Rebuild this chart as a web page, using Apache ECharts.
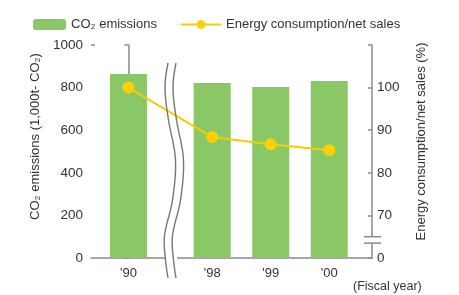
<!DOCTYPE html>
<html>
<head>
<meta charset="utf-8">
<script src="https://cdn.jsdelivr.net/npm/echarts@6.0.0/dist/echarts.min.js"></script>
<style>
  html, body { margin: 0; padding: 0; background: #fff; }
  #main { width: 459px; height: 295px; }
</style>
</head>
<body>
<div id="main"></div>
<script>
// fiscal years and values
var years = ["'90", "'98", "'99", "'00"];
var co2 = [864, 822, 803, 831];          // 1,000t-CO2
var energy = [100, 88.4, 86.7, 85.3];    // %

// slot of each year on the (broken) x axis, '90 sits before the break
var slots = [0, 1.43, 2.43, 3.43];
var xMin = -0.64, xMax = 4.16;

var font = '"Liberation Sans", Arial, sans-serif';
var axisColor = '#8a8a8a';
var textColor = '#333';

var chart = echarts.init(document.getElementById('main'));

var option = {
  animation: false,
  textStyle: { fontFamily: font },
  grid: { left: 91, right: 87, top: 45, bottom: 37 },
  legend: [
    {
      data: ['CO₂ emissions'],
      left: 28, top: 13,
      itemWidth: 33, itemHeight: 11,
      textStyle: { fontSize: 13, color: textColor, fontFamily: font },
      selectedMode: false
    },
    {
      data: ['Energy consumption/net sales'],
      left: 175, top: 13,
      itemWidth: 40, itemHeight: 11,
      textStyle: { fontSize: 13, color: textColor, fontFamily: font },
      selectedMode: false
    }
  ],
  xAxis: {
    type: 'value',
    min: xMin,
    max: xMax,
    axisLine: { lineStyle: { color: axisColor, width: 1.5 } },
    axisTick: { show: false },
    splitLine: { show: false },
    axisLabel: {
      customValues: slots,
      margin: 9,
      fontSize: 13,
      color: textColor,
      fontFamily: font,
      formatter: function (v) {
        var i = slots.indexOf(v);
        return i >= 0 ? years[i] : '';
      }
    }
  },
  yAxis: [
    {
      type: 'value',
      min: 0, max: 1000, interval: 200,
      name: 'CO₂ emissions (1,000t- CO₂)',
      nameLocation: 'middle',
      nameRotate: 90,
      nameGap: 41,
      nameTextStyle: { fontSize: 13, color: textColor, fontFamily: font, padding: [0, 0, 0, 30] },
      axisLine: { show: true, lineStyle: { color: axisColor, width: 1.5 } },
      axisTick: { show: true, length: 4, lineStyle: { color: axisColor, width: 1.5 } },
      splitLine: { show: false },
      axisLabel: {
        margin: 8, fontSize: 13.5, color: textColor, fontFamily: font,
        formatter: function (v) { return String(v); }
      }
    },
    {
      type: 'value',
      position: 'right',
      min: 60, max: 110, interval: 10,
      name: 'Energy consumption/net sales (%)',
      nameLocation: 'middle',
      nameRotate: 90,
      nameGap: 43,
      nameTextStyle: { fontSize: 13, color: textColor, fontFamily: font, padding: [0, 0, 0, 20] },
      axisLine: { show: true, lineStyle: { color: axisColor, width: 1.5 } },
      axisTick: { show: true, inside: true, length: 4, lineStyle: { color: axisColor, width: 1.5 } },
      splitLine: { show: false },
      axisLabel: {
        margin: 5, fontSize: 13.5, color: textColor, fontFamily: font,
        formatter: function (v) {
          if (v === 60) return '0';
          if (v === 110) return '';
          return String(v);
        }
      }
    }
  ],
  series: [
    {
      name: 'CO₂ emissions',
      type: 'bar',
      barWidth: 37,
      itemStyle: { color: '#8ac867' },
      data: co2.map(function (v, i) { return [slots[i], v]; }),
      z: 1
    },
    {
      name: 'Energy consumption/net sales',
      type: 'line',
      yAxisIndex: 1,
      symbol: 'circle',
      symbolSize: 12,
      lineStyle: { color: '#f7cc00', width: 2 },
      itemStyle: { color: '#ffd000' },
      data: energy.map(function (v, i) { return [slots[i], v]; }),
      z: 3
    }
  ]
};

chart.setOption(option);

// decorations: wavy break between '90 and '98, break on the right axis, fiscal year note
var wave = [[168, 63], [165, 88], [168.5, 120], [175.5, 160], [172.5, 200], [164.5, 236], [165.5, 260], [168, 278]];
var wave2 = wave.map(function (p) { return [p[0] + 8, p[1]]; });
var yBase = chart.convertToPixel({ yAxisIndex: 0 }, 0);
var yTop = chart.convertToPixel({ yAxisIndex: 0 }, 1000);
var xL = chart.convertToPixel({ xAxisIndex: 0 }, xMin);
var xR = chart.convertToPixel({ xAxisIndex: 0 }, xMax);
var yb1 = chart.convertToPixel({ yAxisIndex: 1 }, 65);
var yb2 = chart.convertToPixel({ yAxisIndex: 1 }, 63.5);

chart.setOption({
  graphic: [
    { type: 'rect', shape: { x: xL - 5, y: yTop - 1, width: 4.5, height: 2 }, style: { fill: '#fff' }, z: 10 },
    { type: 'line', shape: { x1: xL, y1: yTop, x2: xL + 4, y2: yTop }, style: { stroke: axisColor, lineWidth: 1.5 }, z: 11 },
    { type: 'rect', shape: { x: 165, y: yBase - 2, width: 12, height: 4 }, style: { fill: '#fff' }, z: 10 },
    { type: 'polyline', shape: { points: wave, smooth: 0.4 }, style: { stroke: '#777', lineWidth: 1.4, fill: null }, z: 11 },
    { type: 'polyline', shape: { points: wave2, smooth: 0.4 }, style: { stroke: '#777', lineWidth: 1.4, fill: null }, z: 11 },
    { type: 'rect', shape: { x: xR - 3, y: yb1, width: 6, height: yb2 - yb1 }, style: { fill: '#fff' }, z: 10 },
    { type: 'line', shape: { x1: xR - 8, y1: yb1, x2: xR + 9, y2: yb1 }, style: { stroke: axisColor, lineWidth: 1.5 }, z: 11 },
    { type: 'line', shape: { x1: xR - 8, y1: yb2, x2: xR + 9, y2: yb2 }, style: { stroke: axisColor, lineWidth: 1.5 }, z: 11 },
    {
      type: 'text', left: 353, top: 280,
      style: { text: '(Fiscal year)', fill: textColor, font: '12.5px ' + font }
    }
  ]
});

window.addEventListener('resize', function () {
  chart.resize();
});
</script>
</body>
</html>
